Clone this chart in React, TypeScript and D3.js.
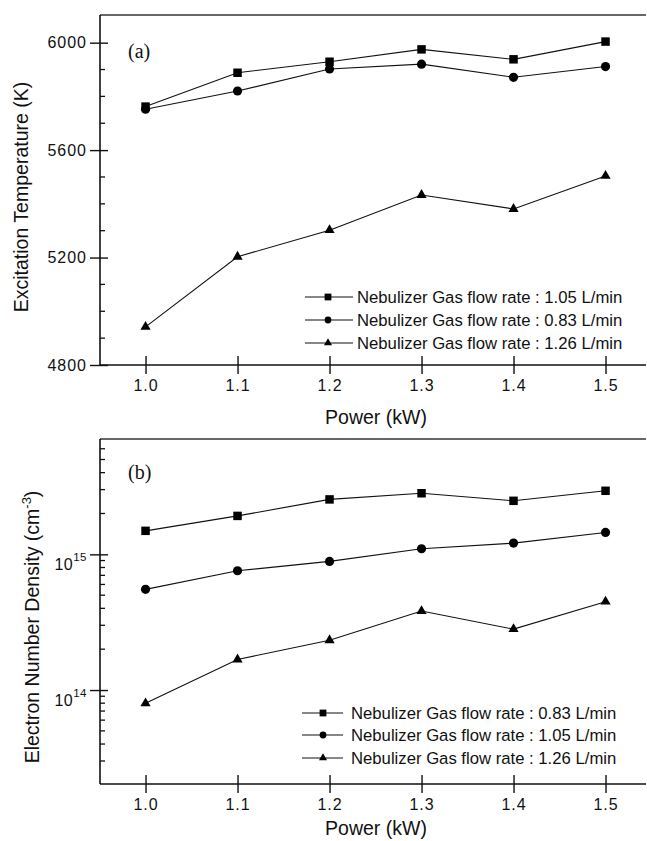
import * as d3 from "d3";
import { useEffect, useRef } from "react";

const powers = [1.0, 1.1, 1.2, 1.3, 1.4, 1.5];

// (a) excitation temperature, K
const tempFlow105 = [5762, 5888, 5929, 5975, 5938, 6004];
const tempFlow083 = [5752, 5820, 5902, 5920, 5871, 5911];
const tempFlow126 = [4942, 5203, 5302, 5433, 5381, 5504];

// (b) electron number density, cm^-3
const densFlow083 = [1.49e15, 1.92e15, 2.54e15, 2.82e15, 2.48e15, 2.94e15];
const densFlow105 = [5.52e14, 7.57e14, 8.87e14, 1.1e15, 1.21e15, 1.45e15];
const densFlow126 = [7.98e13, 1.68e14, 2.33e14, 3.82e14, 2.81e14, 4.48e14];

const powerTicks = [1.0, 1.1, 1.2, 1.3, 1.4, 1.5];
const tempTicks = [4800, 5200, 5600, 6000];
const tempMinorTicks = [4900, 5000, 5100, 5300, 5400, 5500, 5700, 5800, 5900];
const densTicks = [1e14, 1e15];
const densMinorTicks = [
  3e13, 4e13, 5e13, 6e13, 7e13, 8e13, 9e13,
  2e14, 3e14, 4e14, 5e14, 6e14, 7e14, 8e14, 9e14,
  2e15, 3e15, 4e15, 5e15, 6e15,
];

const legendA = [
  "Nebulizer Gas flow rate : 1.05 L/min",
  "Nebulizer Gas flow rate : 0.83 L/min",
  "Nebulizer Gas flow rate : 1.26 L/min",
];
const legendB = [
  "Nebulizer Gas flow rate : 0.83 L/min",
  "Nebulizer Gas flow rate : 1.05 L/min",
  "Nebulizer Gas flow rate : 1.26 L/min",
];

const SANS = "'Liberation Sans', Arial, sans-serif";
const SERIF = "'Liberation Serif', 'Times New Roman', serif";
const INK = "#111";

const symbols = [d3.symbolSquare, d3.symbolCircle, d3.symbolTriangle];
const markerSizes = [72, 66, 45];
const legendMarkerSizes = [46, 36, 28];

export default function App() {
  const svgRef = useRef<SVGSVGElement>(null);

  const W = 647;
  const H = 841;
  const plotLeft = 100;
  const plotRight = 646;

  useEffect(() => {
    const svg = d3.select(svgRef.current);
    svg.selectAll("*").remove();

    const x = d3.scaleLinear().domain([0.9505, 1.544]).range([plotLeft, plotRight]);

    function drawPanel(opts: any) {
      const { top, bottom, y, majors, minors, series, legend, legendRows, legendX, tag, yTitle, titleX, titleY, xTitleY, log } = opts;
      const g = svg.append("g");

      // frame top line
      g.append("line")
        .attr("x1", plotLeft).attr("x2", plotRight)
        .attr("y1", top).attr("y2", top)
        .attr("stroke", "#333").attr("stroke-width", 1.3);

      // x axis
      const xa = g.append("g")
        .attr("transform", `translate(0, ${bottom})`)
        .call(d3.axisBottom(x).tickValues(powerTicks).tickSize(9).tickSizeOuter(0).tickPadding(6).tickFormat(d3.format(".1f")));
      xa.select(".domain").attr("stroke", INK).attr("stroke-width", 1.6).attr("d", `M${plotLeft},0H${plotRight}`);
      xa.selectAll(".tick line").attr("y1", -9).attr("stroke", INK).attr("stroke-width", 1.4);
      xa.selectAll("text")
        .attr("fill", INK).attr("font-family", SANS).attr("font-size", 16).attr("letter-spacing", 1);

      // y axis
      const fmt = log ? () => "" : d3.format("d");
      const ya = g.append("g")
        .attr("transform", `translate(${plotLeft}, 0)`)
        .call(d3.axisLeft(y).tickValues(majors).tickSize(10).tickSizeOuter(0).tickPadding(3).tickFormat(fmt as any));
      ya.select(".domain").attr("stroke", INK).attr("stroke-width", 1.6).attr("d", `M0,${top}V${bottom}`);
      ya.selectAll(".tick line").attr("x1", 8).attr("stroke", INK).attr("stroke-width", 1.4);
      ya.selectAll("text")
        .attr("fill", INK).attr("font-family", SANS).attr("font-size", 16).attr("letter-spacing", 1);
      if (log) {
        ya.selectAll(".tick text").each(function (d: any) {
          const t = d3.select(this);
          t.text(null).attr("dy", "0.95em").attr("letter-spacing", 0.5);
          t.append("tspan").text("10");
          t.append("tspan").attr("dy", -9).attr("font-size", 11.5).text(String(Math.round(Math.log10(d))));
        });
      }

      g.append("g").selectAll("line")
        .data(minors)
        .enter()
        .append("line")
        .attr("x1", plotLeft).attr("x2", plotLeft + 5)
        .attr("y1", (d: number) => y(d)).attr("y2", (d: number) => y(d))
        .attr("stroke", INK).attr("stroke-width", 1.3);

      // series
      series.forEach((vals: number[], i: number) => {
        const pts = powers.map((p, k) => [x(p), y(vals[k])] as [number, number]);
        g.append("path")
          .attr("d", d3.line()(pts))
          .attr("fill", "none").attr("stroke", INK).attr("stroke-width", 1.1);
        g.selectAll(`.m${i}`)
          .data(pts)
          .enter()
          .append("path")
          .attr("class", `m${i}`)
          .attr("transform", (d) => `translate(${d[0]}, ${d[1]})`)
          .attr("d", d3.symbol().type(symbols[i]).size(markerSizes[i])())
          .attr("fill", "#000");
      });

      // legend
      const [lx0, lxm, lx1, ltx] = legendX;
      legend.forEach((label: string, i: number) => {
        const ry = legendRows[i];
        g.append("line")
          .attr("x1", lx0).attr("x2", lx1).attr("y1", ry).attr("y2", ry)
          .attr("stroke", INK).attr("stroke-width", 1.1);
        g.append("path")
          .attr("transform", `translate(${lxm}, ${ry})`)
          .attr("d", d3.symbol().type(symbols[i]).size(legendMarkerSizes[i])())
          .attr("fill", "#000");
        g.append("text")
          .attr("x", ltx).attr("y", ry).attr("dy", "0.36em")
          .attr("font-family", SANS).attr("font-size", 16.7).attr("fill", INK)
          .text(label);
      });

      // panel tag
      g.append("text")
        .attr("x", 128).attr("y", tag.y)
        .attr("font-family", SERIF).attr("font-size", 20).attr("fill", INK)
        .text(tag.text);

      // y title
      const yt = g.append("text")
        .attr("transform", `translate(${titleX}, ${titleY}) rotate(-90)`)
        .attr("text-anchor", "middle")
        .attr("font-family", SANS).attr("font-size", 19.5).attr("fill", INK);
      yTitle(yt);

      // x title
      g.append("text")
        .attr("x", 376).attr("y", xTitleY)
        .attr("text-anchor", "middle")
        .attr("font-family", SANS).attr("font-size", 19.5).attr("fill", INK)
        .text("Power (kW)");
    }

    const yTemp = d3.scaleLinear().domain([4800, 6103]).range([365, 15]);
    drawPanel({
      top: 15,
      bottom: 365,
      y: yTemp,
      majors: tempTicks,
      minors: tempMinorTicks,
      series: [tempFlow105, tempFlow083, tempFlow126],
      legend: legendA,
      legendRows: [297, 320, 343],
      legendX: [305, 328, 353, 357],
      tag: { text: "(a)", y: 58 },
      titleX: 28,
      titleY: 197,
      xTitleY: 424,
      yTitle: (t: any) => t.text("Excitation Temperature (K)"),
      log: false,
    });

    const yDens = d3.scaleLog().domain([2.03e13, 7.08e15]).range([784, 439]);
    drawPanel({
      top: 439,
      bottom: 784,
      y: yDens,
      majors: densTicks,
      minors: densMinorTicks,
      series: [densFlow083, densFlow105, densFlow126],
      legend: legendB,
      legendRows: [713, 735, 758],
      legendX: [302, 323, 343, 351],
      tag: { text: "(b)", y: 479 },
      titleX: 39,
      titleY: 627,
      xTitleY: 835,
      yTitle: (t: any) => {
        t.append("tspan").text("Electron Number Density (cm");
        t.append("tspan").attr("dy", -8).attr("font-size", 13).text("-3");
        t.append("tspan").attr("dy", 8).text(")");
      },
      log: true,
    });
  }, []);

  return (
    <svg
      ref={svgRef}
      width={W}
      height={H}
      style={{ position: "absolute", left: 0, top: 0, background: "#fff" }}
    ></svg>
  );
}
